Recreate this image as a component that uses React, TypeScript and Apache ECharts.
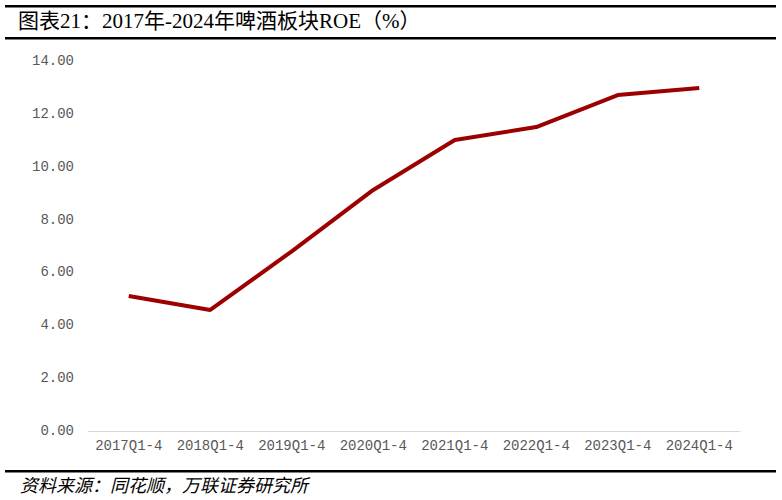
// 啤酒板块ROE折线图
import { useRef, useEffect } from "react";
import * as echarts from "echarts";

const categories = [
  "2017Q1-4",
  "2018Q1-4",
  "2019Q1-4",
  "2020Q1-4",
  "2021Q1-4",
  "2022Q1-4",
  "2023Q1-4",
  "2024Q1-4",
];
const roeValues = [5.11, 4.58, 6.8, 9.12, 11.01, 11.5, 12.71, 12.98];

const serif = "'Liberation Serif', 'Noto Sans CJK SC', serif";
const mono = "'Liberation Mono', monospace";

const App = () => {
  const chartRef = useRef<HTMLDivElement>(null);

  useEffect(() => {
    const myChart = echarts.init(chartRef.current, null, { renderer: "svg" });

    const option = {
      animation: false,
      backgroundColor: "#fff",
      grid: { left: 88, right: 42, top: 61, bottom: 69 },
      xAxis: {
        type: "category",
        data: categories,
        boundaryGap: true,
        axisLine: { lineStyle: { color: "#d9d9d9", width: 1 } },
        axisTick: { inside: true, length: 5, lineStyle: { color: "#d9d9d9" } },
        axisLabel: {
          interval: 0,
          hideOverlap: false,
          color: "#595959",
          fontSize: 14,
          fontFamily: mono,
          margin: 8,
        },
      },
      yAxis: {
        type: "value",
        min: 0,
        max: 14,
        interval: 2,
        axisLine: { show: false },
        axisTick: { show: false },
        splitLine: { show: false },
        axisLabel: {
          color: "#595959",
          fontSize: 14,
          fontFamily: mono,
          margin: 14,
          formatter: (v: number) => v.toFixed(2),
        },
      },
      series: [
        {
          name: "ROE",
          type: "line",
          data: roeValues,
          symbol: "none",
          lineStyle: { color: "#9c0000", width: 4 },
        },
      ],
      graphic: [
        {
          type: "rect",
          shape: { x: 5, y: 5, width: 771, height: 2.5 },
          style: { fill: "#000" },
        },
        {
          type: "text",
          left: 18,
          top: 10,
          style: {
            text: "图表21：2017年-2024年啤酒板块ROE（%）",
            font: `21px ${serif}`,
            fill: "#000",
          },
        },
        {
          type: "rect",
          shape: { x: 5, y: 37, width: 771, height: 2.5 },
          style: { fill: "#000" },
        },
        {
          type: "rect",
          shape: { x: 5, y: 470, width: 771, height: 2.5 },
          style: { fill: "#000" },
        },
        {
          type: "text",
          left: 20,
          top: 477,
          style: {
            text: "资料来源：同花顺，万联证券研究所",
            font: `italic 18px ${serif}`,
            fill: "#000",
          },
        },
      ],
    };

    myChart.setOption(option);

    return () => {
      myChart.dispose();
    };
  }, []);

  return (
    <div
      ref={chartRef}
      style={{ position: "fixed", left: 0, top: 0, width: "782px", height: "500px" }}
    ></div>
  );
};

export default App;
